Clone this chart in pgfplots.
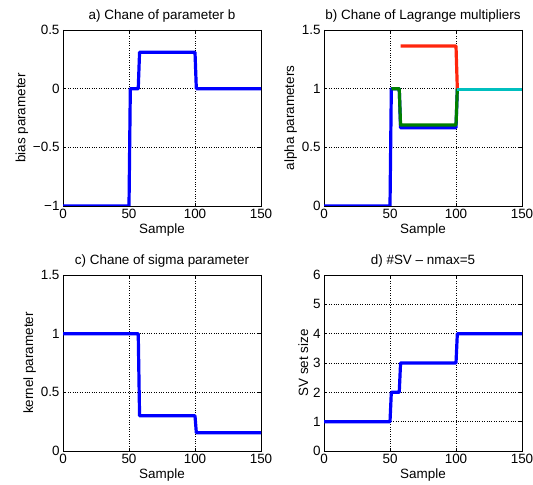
\documentclass[border=0pt]{standalone}
\usepackage{fontspec}
\setmainfont{Liberation Sans}
\usepackage{pgfplots}
\pgfplotsset{compat=1.18}
\definecolor{mblue}{rgb}{0,0,1}
\definecolor{mgreen}{rgb}{0,0.5,0}
\definecolor{mred}{rgb}{1,0.15,0.05}
\definecolor{mcyan}{rgb}{0,0.75,0.75}
\pgfplotsset{
  mlab/.style={
    scale only axis, width=198bp, height=176bp,
    xmin=0, xmax=150, xtick={0,50,100,150},
    grid=major, grid style={black, dotted, line width=0.5pt},
    axis line style={black, line width=0.8pt},
    tick align=inside, major tick length=3bp,
    tick style={black, line width=0.6pt},
    font=\fontsize{13.5}{15}\selectfont,
    /pgf/number format/assume math mode=true,
    xlabel=Sample,
    xlabel style={yshift=2.5bp},
    ylabel style={yshift=-2bp},
    title style={yshift=-2bp},
    every axis plot/.append style={line width=3.2bp, line join=round, mark=none},
  }
}
\begin{document}
\begin{tikzpicture}
\useasboundingbox (0,0) rectangle (533bp,485bp);

\begin{axis}[mlab, at={(63bp,279bp)}, anchor=south west,
  title={a) Chane of parameter b}, ylabel={bias parameter},
  ymin=-1, ymax=0.5, ytick={-1,-0.5,0,0.5},
  yticklabels={−1,−0.5,0,0.5}]
\addplot[mblue] coordinates {(0,-1) (50,-1) (51,0) (57,0) (58,0.31) (100,0.31) (101,0) (150,0)};
\end{axis}

\begin{axis}[mlab, at={(324bp,279bp)}, anchor=south west,
  title={b) Chane of Lagrange multipliers}, ylabel={alpha parameters},
  ymin=0, ymax=1.5, ytick={0,0.5,1,1.5}]
\addplot[mblue] coordinates {(0,0) (50,0) (51,1) (57,1) (58,0.667) (100,0.667) (101,1)};
\addplot[mgreen] coordinates {(51,1) (57,1) (58,0.69) (100,0.69) (101,1)};
\addplot[mred] coordinates {(58,1.363) (100,1.363) (101,1)};
\addplot[mcyan] coordinates {(101,0.99) (150,0.99)};
\end{axis}

\begin{axis}[mlab, at={(63bp,34bp)}, anchor=south west,
  title={c) Chane of sigma parameter}, ylabel={kernel parameter},
  ymin=0, ymax=1.5, ytick={0,0.5,1,1.5}]
\addplot[mblue] coordinates {(0,1) (57,1) (58,0.3) (100,0.3) (101,0.156) (150,0.156)};
\end{axis}

\begin{axis}[mlab, at={(324bp,34bp)}, anchor=south west,
  title={d) \#SV – nmax=5}, ylabel={SV set size},
  ymin=0, ymax=6, ytick={0,1,2,3,4,5,6}]
\addplot[mblue] coordinates {(0,1) (50,1) (51,2) (57,2) (58,3) (100,3) (101,4) (150,4)};
\end{axis}
\end{tikzpicture}
\end{document}
